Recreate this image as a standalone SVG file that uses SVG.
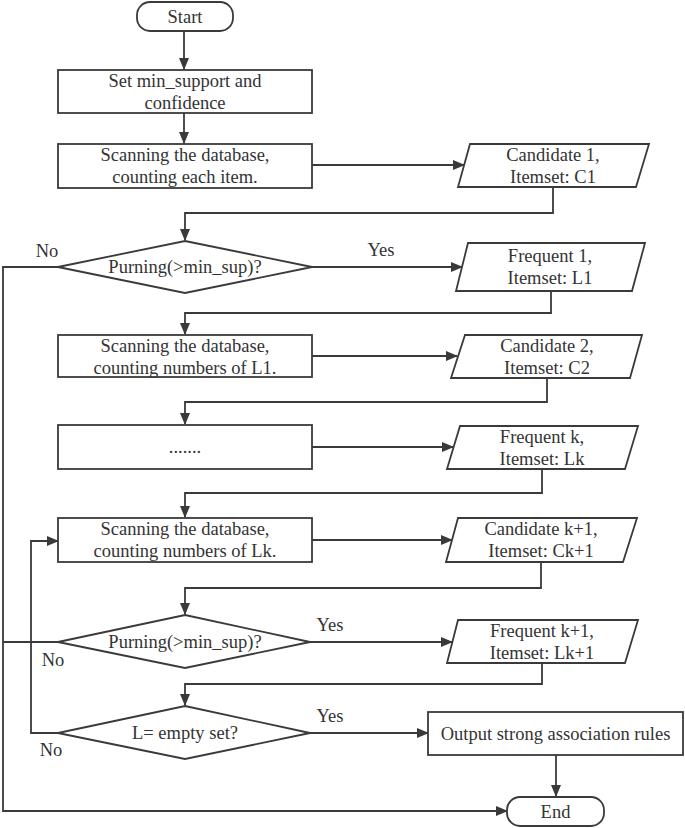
<svg xmlns="http://www.w3.org/2000/svg" width="685" height="828" viewBox="0 0 685 828">
<style>
.s{fill:#fff;stroke:#3a3a3a;stroke-width:1.8}
.c{fill:none;stroke:#3a3a3a;stroke-width:1.8}
text{font-family:'Liberation Serif','Times New Roman',serif;font-size:18.5px;fill:#333;text-anchor:middle}
</style>
<defs>
<marker id="ah" markerWidth="12" markerHeight="10" refX="11" refY="5" orient="auto" markerUnits="userSpaceOnUse">
<path d="M0,0 L12,5 L0,10 Z" fill="#3a3a3a"/>
</marker>
</defs>
<rect width="685" height="828" fill="#fff"/>
<g id="connectors">
<path class="c" d="M184,31 V69" marker-end="url(#ah)"/>
<path class="c" d="M184,113 V143" marker-end="url(#ah)"/>
<path class="c" d="M312,165 H464" marker-end="url(#ah)"/>
<path class="c" d="M553,187 V213 H185 V240" marker-end="url(#ah)"/>
<path class="c" d="M312,267 H462" marker-end="url(#ah)"/>
<path class="c" d="M551,291 V313 H185 V334" marker-end="url(#ah)"/>
<path class="c" d="M312,356 H457" marker-end="url(#ah)"/>
<path class="c" d="M547,378 V402 H185 V424" marker-end="url(#ah)"/>
<path class="c" d="M312,447 H453" marker-end="url(#ah)"/>
<path class="c" d="M542,469 V493 H185 V517" marker-end="url(#ah)"/>
<path class="c" d="M312,540 H452" marker-end="url(#ah)"/>
<path class="c" d="M541,562 V588 H185 V614" marker-end="url(#ah)"/>
<path class="c" d="M310,642 H452" marker-end="url(#ah)"/>
<path class="c" d="M542,663 V684 H185 V705" marker-end="url(#ah)"/>
<path class="c" d="M310,733 H428" marker-end="url(#ah)"/>
<path class="c" d="M556,755 V796" marker-end="url(#ah)"/>
<path class="c" d="M58,267 H3 V811 H507" marker-end="url(#ah)"/>
<path class="c" d="M58,642 H3"/>
<path class="c" d="M58,733 H31 V541 H58" marker-end="url(#ah)"/>
<text x="47" y="257">No</text>
<text x="381" y="256">Yes</text>
<text x="330" y="631">Yes</text>
<text x="53" y="666">No</text>
<text x="330" y="722">Yes</text>
<text x="51" y="756">No</text>
</g>
<g id="start">
<rect class="s" x="137" y="2" width="96" height="29" rx="13"/>
<text x="185" y="23">Start</text>
</g>
<g id="set-support">
<rect class="s" x="58" y="70" width="254" height="43"/>
<text x="185" y="87">Set min_support and</text>
<text x="185" y="109">confidence</text>
</g>
<g id="scan1">
<rect class="s" x="58" y="144" width="254" height="44"/>
<text x="185" y="161">Scanning the database,</text>
<text x="185" y="183">counting each item.</text>
</g>
<g id="c1">
<polygon class="s" points="470,144 649,144 636,187 458,187"/>
<text x="553" y="160.5">Candidate 1,</text>
<text x="553" y="182.5">Itemset: C1</text>
</g>
<g id="prune1">
<polygon class="s" points="185,241 312,267 185,293 58,267"/>
<text x="185" y="273">Purning(&gt;min_sup)?</text>
</g>
<g id="l1">
<polygon class="s" points="468,243 645,243 632,291 456,291"/>
<text x="550" y="261.5">Frequent 1,</text>
<text x="550" y="283.5">Itemset: L1</text>
</g>
<g id="scan2">
<rect class="s" x="58" y="335" width="254" height="42"/>
<text x="185" y="351.5">Scanning the database,</text>
<text x="185" y="373.5">counting numbers of L1.</text>
</g>
<g id="c2">
<polygon class="s" points="465,335 642,335 630,378 451,378"/>
<text x="547" y="351.5">Candidate 2,</text>
<text x="547" y="373.5">Itemset: C2</text>
</g>
<g id="dots">
<rect class="s" x="58" y="425" width="254" height="44"/>
<text x="185" y="453">.......</text>
</g>
<g id="lk">
<polygon class="s" points="460,426 638,426 625,469 447,469"/>
<text x="542" y="442.5">Frequent k,</text>
<text x="542" y="464.5">Itemset: Lk</text>
</g>
<g id="scank">
<rect class="s" x="58" y="518" width="254" height="44"/>
<text x="185" y="535">Scanning the database,</text>
<text x="185" y="557">counting numbers of Lk.</text>
</g>
<g id="ck1">
<polygon class="s" points="458,518 637,518 623,562 446,562"/>
<text x="541" y="535">Candidate k+1,</text>
<text x="541" y="557">Itemset: Ck+1</text>
</g>
<g id="prune2">
<polygon class="s" points="185,615 310,642 185,668 58,642"/>
<text x="185" y="648">Purning(&gt;min_sup)?</text>
</g>
<g id="lk1">
<polygon class="s" points="458,620 638,620 625,663 447,663"/>
<text x="542" y="636.5">Frequent k+1,</text>
<text x="542" y="658.5">Itemset: Lk+1</text>
</g>
<g id="empty">
<polygon class="s" points="185,706 310,733 185,759 58,733"/>
<text x="185" y="739">L= empty set?</text>
</g>
<g id="output">
<rect class="s" x="428" y="712" width="255" height="43"/>
<text x="555.5" y="739.5">Output strong association rules</text>
</g>
<g id="end">
<rect class="s" x="507" y="797" width="97" height="29" rx="13"/>
<text x="555.5" y="818">End</text>
</g>
</svg>
